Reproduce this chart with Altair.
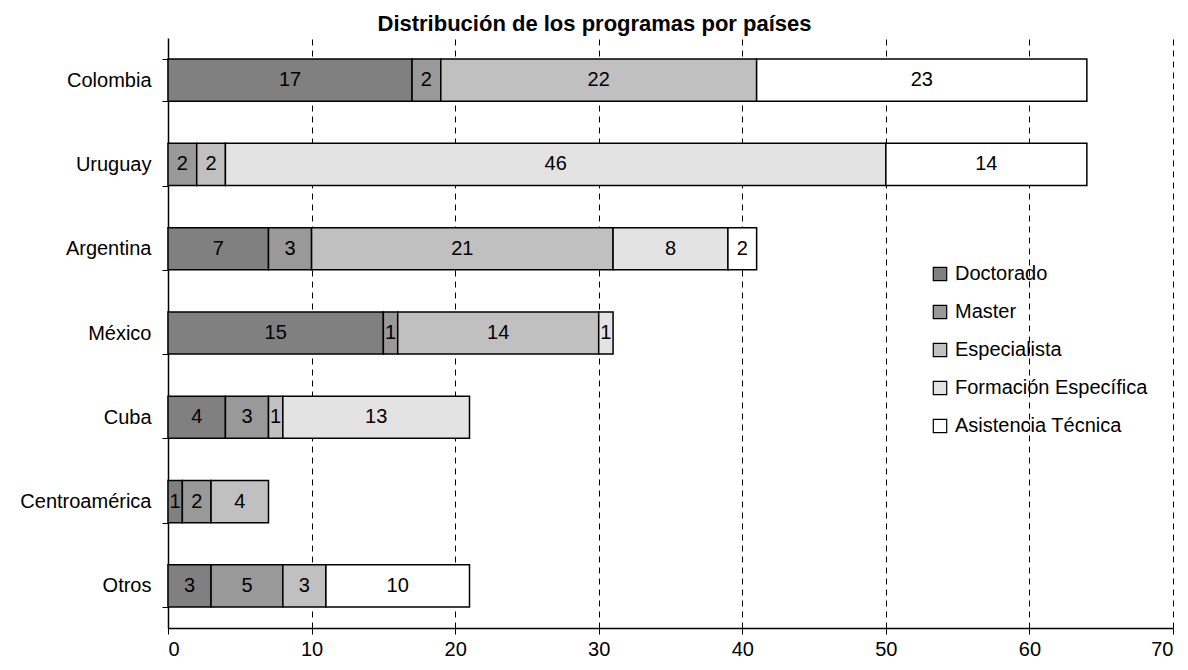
import altair as alt
import pandas as pd

paises = ["Colombia", "Uruguay", "Argentina", "México", "Cuba", "Centroamérica", "Otros"]
tipos = ["Doctorado", "Master", "Especialista", "Formación Específica", "Asistencia Técnica"]
colores = ["#808080", "#999999", "#C0C0C0", "#E3E3E3", "#FFFFFF"]

doctorado = [17, 0, 7, 15, 4, 1, 3]
master = [2, 2, 3, 1, 3, 2, 5]
especialista = [22, 2, 21, 14, 1, 4, 3]
formacion = [0, 46, 8, 1, 13, 0, 0]
asistencia = [23, 14, 2, 0, 0, 0, 10]

series = [doctorado, master, especialista, formacion, asistencia]
rows = []
for ti, (tipo, vals) in enumerate(zip(tipos, series)):
    for p, v in zip(paises, vals):
        rows.append({"pais": p, "tipo": tipo, "orden": ti, "valor": v})
df = pd.DataFrame(rows)

FONT = "Liberation Sans"
FS = 20

base = alt.Chart(df).transform_filter("datum.valor > 0").transform_stack(
    stack="valor", groupby=["pais"], as_=["x0", "x1"],
    sort=[alt.SortField(field="orden", order="ascending")]
)

y_enc = alt.Y("pais:N", sort=paises, title=None,
              scale=alt.Scale(paddingInner=0.5, paddingOuter=0.25),
              axis=alt.Axis(tickBand="extent", tickSize=6, tickColor="black",
                            domainColor="black", domainWidth=1.5, labelFontSize=FS,
                            labelFont=FONT, labelColor="black", labelPadding=11,
                            grid=False))

bars = base.mark_bar(stroke="black", strokeWidth=1.5).encode(
    x=alt.X("x0:Q", title=None, scale=alt.Scale(domain=[0, 70], nice=False),
            axis=alt.Axis(values=[0, 10, 20, 30, 40, 50, 60, 70], tickSize=6,
                          tickColor="black", domainColor="black", domainWidth=1.5,
                          labelFontSize=FS, labelFont=FONT, labelColor="black",
                          labelPadding=5, grid=True, gridColor="black",
                          gridDash=[6, 5], gridWidth=1, gridOpacity=1)),
    x2="x1:Q",
    y=y_enc,
    fill=alt.Fill("tipo:N", sort=tipos,
                  scale=alt.Scale(domain=tipos, range=colores),
                  legend=alt.Legend(title=None, orient="none", legendX=762, legendY=226,
                                    symbolType="square", symbolSize=180,
                                    symbolStrokeColor="black", symbolStrokeWidth=1.2,
                                    labelFontSize=FS, labelFont=FONT, labelColor="black",
                                    labelLimit=400, rowPadding=18, labelOffset=5)),
)

labels = base.transform_calculate(mid="(datum.x0 + datum.x1) / 2").mark_text(
    fontSize=FS, font=FONT, color="black", baseline="middle", align="center"
).encode(
    x="mid:Q",
    y=alt.Y("pais:N", sort=paises),
    text="valor:Q",
)

chart = alt.layer(bars, labels).properties(
    width=1005, height=590,
    title=alt.TitleParams("Distribución de los programas por países", font=FONT,
                          fontSize=22, fontWeight="bold", color="black",
                          anchor="middle", dx=-76, dy=8, offset=0),
    padding={"left": 160, "top": 30, "right": 7, "bottom": 30},
    autosize=alt.AutoSizeParams(type="none"),
).configure_view(stroke=None)

chart.save("out.html", embed_options={"renderer": "svg", "actions": False})
